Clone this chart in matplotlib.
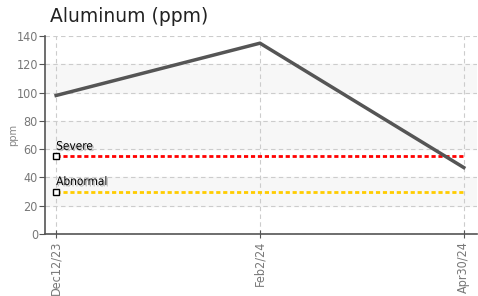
import matplotlib.pyplot as plt
import matplotlib.patheffects as pe

# sample dates and measured values
dates = ['Dec12/23', 'Feb2/24', 'Apr30/24']
aluminum = [98, 135, 47]

# limits
limit_names = ['Severe', 'Abnormal']
limit_values = [55, 30]
limit_colors = ['#ff0000', '#ffcc00']

yticks = [0, 20, 40, 60, 80, 100, 120, 140]

cond = dict(family='DejaVu Sans', fontstretch='condensed')

fig = plt.figure(figsize=(4.78, 2.96), dpi=100)
ax = fig.add_axes([0.094, 0.2095, 0.904, 0.6685])

x = list(range(len(dates)))

# alternating bands
for lo in [20, 60, 100]:
    ax.axhspan(lo, lo + 20, color='#f7f7f7', zorder=0)

ax.grid(True, color='#cccccc', linestyle=(0, (4, 3)), linewidth=0.8, zorder=1)

for name, val, col in zip(limit_names, limit_values, limit_colors):
    ax.plot([x[0], x[-1]], [val, val], color=col, linestyle=(0, (1.5, 1)),
            linewidth=2, zorder=2)
    ax.plot([x[0]], [val], marker='s', markersize=5, markerfacecolor='white',
            markeredgecolor='black', markeredgewidth=1, zorder=4)
    ax.text(x[0], val + 2.5, name, fontsize=8.5, color='black',
            ha='left', va='bottom', zorder=5, **cond,
            path_effects=[pe.withSimplePatchShadow(offset=(1, -1), alpha=0.25)])

ax.plot(x, aluminum, color='#555555', linewidth=2.5, zorder=3)

ax.set_xlim(-0.055, 2.065)
ax.set_ylim(0, 140)
ax.set_xticks(x)
ax.set_xticklabels(dates, rotation=90, fontsize=9, color='#777777', **cond)
ax.set_yticks(yticks)
ax.set_yticklabels([str(v) for v in yticks], fontsize=9, color='#777777', **cond)
ax.tick_params(axis='y', direction='out', length=4, color='#555555', pad=1)
ax.tick_params(axis='x', direction='inout', length=6, color='#555555', pad=2)

for s in ['top', 'right']:
    ax.spines[s].set_visible(False)
for s in ['left', 'bottom']:
    ax.spines[s].set_color('#555555')
    ax.spines[s].set_linewidth(1.2)

ax.set_ylabel('ppm', fontsize=8, color='#888888', **cond)
ax.yaxis.set_label_coords(-0.062, 0.5)

fig.text(0.105, 0.943, 'Aluminum (ppm)', fontsize=13.5, color='#222222',
         ha='left', va='center')

fig.savefig('out.png', dpi=100)
